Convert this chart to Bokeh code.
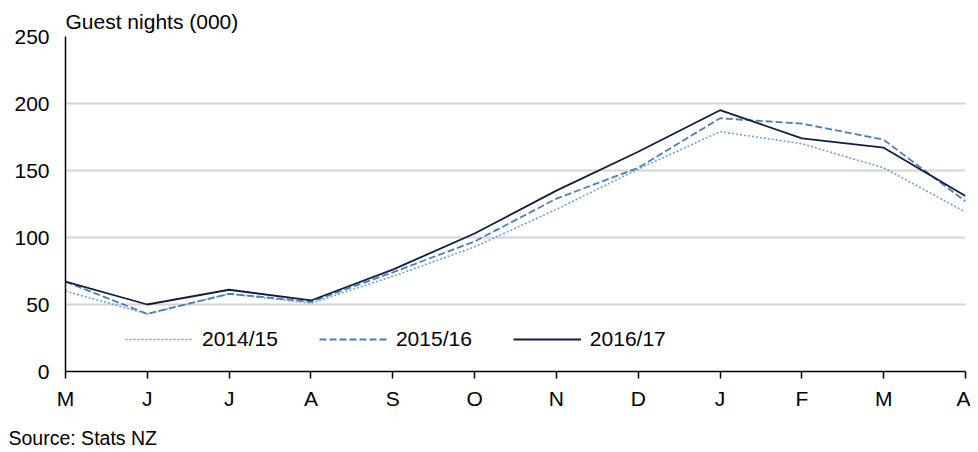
from bokeh.plotting import figure
from bokeh.models import Range1d, FixedTicker, Legend, LegendItem, Title
from bokeh.embed import file_html
from bokeh.resources import INLINE

months = ["M", "J", "J", "A", "S", "O", "N", "D", "J", "F", "M", "A"]
y2014_15 = [60, 43, 58, 51, 71, 93, 121, 151, 179, 170, 152, 119]
y2015_16 = [67, 43, 58, 52, 74, 97, 129, 152, 189, 185, 173, 127]
y2016_17 = [67, 50, 61, 53, 76, 103, 135, 164, 195, 174, 167, 131]
series_names = ["2014/15", "2015/16", "2016/17"]
y_ticks = [0, 50, 100, 150, 200, 250]

FONT = "Liberation Sans"
x = list(range(len(months)))

p = figure(frame_width=900, frame_height=335, output_backend="svg", toolbar_location=None,
           x_range=Range1d(0, len(months) - 1), y_range=Range1d(0, 250),
           min_border_left=65, min_border_right=5, min_border_top=36, min_border_bottom=0)
p.outline_line_color = None
p.background_fill_color = "white"

r1 = p.line(x, y2014_15, line_color="#6f9fd8", line_width=1.6, line_dash="2 2")
r2 = p.line(x, y2015_16, line_color="#4a7ebb", line_width=1.8, line_dash="7 3")
r3 = p.line(x, y2016_17, line_color="#141c3c", line_width=1.8)

# axes
p.xaxis.ticker = FixedTicker(ticks=x)
p.xaxis.major_label_overrides = {i: m for i, m in enumerate(months)}
p.xaxis.major_tick_out = 7
p.xaxis.major_tick_in = 0
p.xaxis.minor_tick_line_color = None
p.xaxis.axis_line_color = "black"
p.xaxis.axis_line_width = 1.5
p.xaxis.major_tick_line_width = 1.5
p.xaxis.major_label_standoff = 8
p.xaxis.major_label_text_font = FONT
p.xaxis.major_label_text_font_size = "21px"
p.xaxis.major_label_text_color = "black"

p.yaxis.ticker = FixedTicker(ticks=y_ticks)
p.yaxis.major_tick_out = 0
p.yaxis.major_tick_in = 0
p.yaxis.minor_tick_line_color = None
p.yaxis.axis_line_color = "black"
p.yaxis.axis_line_width = 1.5
p.yaxis.major_label_standoff = 16
p.yaxis.major_label_text_font = FONT
p.yaxis.major_label_text_font_size = "21px"
p.yaxis.major_label_text_color = "black"

p.xgrid.grid_line_color = None
p.ygrid.grid_line_color = "#d4d4d4"
p.ygrid.grid_line_width = 2

# titles
p.title.text = "Guest nights (000)"
p.title.text_font = FONT
p.title.text_font_size = "21px"
p.title.text_font_style = "normal"
p.title.text_color = "black"
p.title.align = "left"
p.title.offset = 0
p.title.standoff = 8

spacer = Title(text=" ", text_font=FONT, text_font_size="4px", standoff=0)
p.add_layout(spacer, "below")

src = Title(text="Source: Stats NZ", text_font=FONT, text_font_size="19.5px",
            text_font_style="normal", text_color="black", align="left",
            offset=-57, standoff=10)
p.add_layout(src, "below")

legend = Legend(items=[LegendItem(label=series_names[0], renderers=[r1]),
                       LegendItem(label=series_names[1], renderers=[r2]),
                       LegendItem(label=series_names[2], renderers=[r3])],
                orientation="horizontal", location=(60, 20),
                glyph_width=68, glyph_height=20, label_standoff=9, spacing=41,
                padding=0, margin=0, border_line_color=None,
                background_fill_alpha=0,
                label_text_font=FONT, label_text_font_size="21px",
                label_text_color="black")
p.add_layout(legend, "center")

open("out.html", "w").write(file_html(p, INLINE))
